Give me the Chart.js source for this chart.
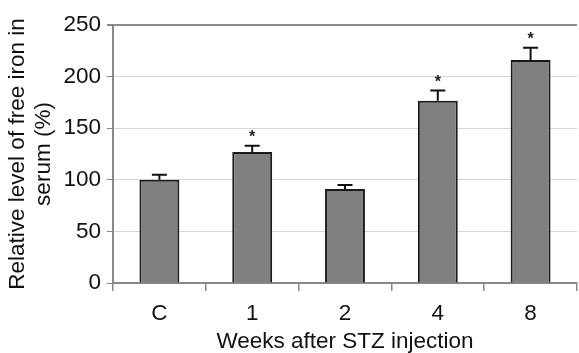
<!DOCTYPE html>
<html>
<head>
<meta charset="utf-8">
<script src="https://cdn.jsdelivr.net/npm/chart.js@4.4.1/dist/chart.umd.min.js"></script>
<style>
html,body{margin:0;padding:0;background:#fff;}
#wrap{width:579px;height:353px;position:relative;}
</style>
</head>
<body>
<div id="wrap"><canvas id="c" width="579" height="353"></canvas></div>
<script>
const categories = ['C', '1', '2', '4', '8'];
const means = [100, 127, 91, 176.5, 216];
const errors = [5, 6, 4, 10, 12];
const significant = [false, true, false, true, true];
const yTicks = [0, 50, 100, 150, 200, 250];
const xTitle = 'Weeks after STZ injection';
const yTitle = ['Relative level of free iron in', 'serum (%)'];

const FONT = "'Liberation Sans', Arial, sans-serif";

const errorPlugin = {
  id: 'errorBars',
  afterDatasetsDraw(chart) {
    const ctx = chart.ctx;
    const meta = chart.getDatasetMeta(0);
    const y = chart.scales.y;
    ctx.save();
    meta.data.forEach((bar, i) => {
      const top = y.getPixelForValue(means[i]);
      const et = y.getPixelForValue(means[i] + errors[i]);
      ctx.strokeStyle = '#111';
      ctx.lineWidth = 2;
      ctx.beginPath();
      ctx.moveTo(bar.x, top);
      ctx.lineTo(bar.x, et);
      ctx.moveTo(bar.x - 7.5, et);
      ctx.lineTo(bar.x + 7.5, et);
      ctx.stroke();
      if (significant[i]) {
        ctx.fillStyle = '#222';
        ctx.font = 'bold 16px ' + FONT;
        ctx.textAlign = 'center';
        ctx.textBaseline = 'middle';
        ctx.fillText('*', bar.x, et - 8);
      }
    });
    ctx.restore();
  }
};

new Chart(document.getElementById('c'), {
  type: 'bar',
  data: {
    labels: categories,
    datasets: [{
      data: means,
      backgroundColor: '#808080',
      borderColor: '#1a1a1a',
      borderWidth: 2,
      barPercentage: 0.43,
      categoryPercentage: 1.0
    }]
  },
  options: {
    responsive: false,
    animation: false,
    devicePixelRatio: 1,
    layout: { padding: { top: 25, right: 2, left: 0, bottom: 0 } },
    plugins: { legend: { display: false }, tooltip: { enabled: false } },
    scales: {
      x: {
        offset: true,
        grid: { offset: true, drawOnChartArea: false, drawTicks: true, tickLength: 8, tickColor: '#888', lineWidth: 1.5 },
        border: { color: '#888', width: 2 },
        ticks: { color: '#111', font: { family: FONT, size: 22.5 }, padding: 9 },
        title: { display: true, text: xTitle, color: '#111', font: { family: FONT, size: 22.5, lineHeight: 1.0 }, padding: { top: 0, bottom: 0 } },
        afterFit(scale) { scale.height = 70; }
      },
      y: {
        min: 0, max: 250,
        afterBuildTicks(scale) { scale.ticks = yTicks.map(v => ({ value: v })); },
        grid: {
          color: (c) => c.tick && c.tick.value === 250 ? '#8c8c8c' : '#d6d6d6',
          lineWidth: (c) => c.tick && c.tick.value === 250 ? 2 : 1,
          tickColor: '#888', tickLength: 6
        },
        border: { color: '#888', width: 2 },
        ticks: { color: '#111', font: { family: FONT, size: 22.5 }, padding: 6 },
        title: { display: true, text: yTitle, color: '#111', font: { family: FONT, size: 22.5, lineHeight: 1.16 }, padding: { top: 5, bottom: 0 } },
        afterFit(scale) { scale.width = 113; }
      }
    }
  },
  plugins: [errorPlugin]
});
</script>
</body>
</html>
